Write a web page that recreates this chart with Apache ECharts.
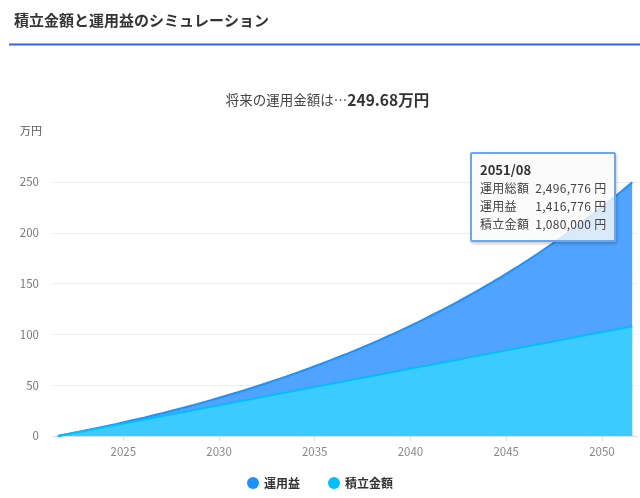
<!DOCTYPE html>
<html><head><meta charset="utf-8">
<script src="https://cdn.jsdelivr.net/npm/echarts@6/dist/echarts.min.js"></script>
<style>html,body{margin:0;padding:0;background:#fff;}#c{width:640px;height:498px;}</style>
</head><body><div id="c"></div>
<script>
var dates = ['2021-08','2022-08','2023-08','2024-08','2025-08','2026-08','2027-08','2028-08','2029-08','2030-08',
  '2031-08','2032-08','2033-08','2034-08','2035-08','2036-08','2037-08','2038-08','2039-08','2040-08',
  '2041-08','2042-08','2043-08','2044-08','2045-08','2046-08','2047-08','2048-08','2049-08','2050-08','2051-08'];
// 万円
var principal = [0,3.6,7.2,10.8,14.4,18,21.6,25.2,28.8,32.4,36,39.6,43.2,46.8,50.4,54,57.6,61.2,64.8,68.4,72,75.6,79.2,82.8,86.4,90,93.6,97.2,100.8,104.4,108];
var profit = [0,0.08,0.36,0.83,1.50,2.40,3.53,4.90,6.52,8.41,10.58,13.05,15.83,18.93,22.38,26.19,30.37,34.96,39.96,45.40,51.31,57.70,64.60,72.05,80.05,88.65,97.87,107.75,118.32,129.62,141.68];
var xTickYears = [2025,2030,2035,2040,2045,2050];
var yTicks = [0,50,100,150,200,250];
var seriesNames = ['運用益','積立金額'];
var titleText = '積立金額と運用益のシミュレーション';
var finalLabel = '将来の運用金額は…';
var finalValue = '249.68万円';
var tipDate = '2051/08';
var tipRows = [['運用総額','2,496,776 円'],['運用益','1,416,776 円'],['積立金額','1,080,000 円']];

var FONT = '"Noto Sans CJK JP","Noto Sans",sans-serif';
var chart = echarts.init(document.getElementById('c'));
function ts(s){ var p = s.split('-'); return new Date(+p[0], +p[1]-1, 1).getTime(); }
// stacked: the profit band sits on top of the principal band
var pData = dates.map(function(d,i){return [ts(d), principal[i]];});
var tData = dates.map(function(d,i){return [ts(d), principal[i] + profit[i]];});
var xTickVals = xTickYears.map(function(y){return new Date(y,0,1).getTime();});

chart.setOption({
  animation: false,
  textStyle: {fontFamily: FONT},
  title: [
    {text: titleText, left: 9, top: 8, textStyle: {fontSize: 15, fontWeight: 'bold', color: '#333', fontFamily: FONT}}
  ],
  graphic: [
    {type: 'line', shape: {x1: 9, y1: 44.5, x2: 640, y2: 44.5}, style: {stroke: '#3d63d8', lineWidth: 2}},
    {type: 'text', x: 327.5, y: 100, style: {text: '{a|' + finalLabel + '}{b|' + finalValue + '}', align: 'center', verticalAlign: 'middle',
      rich: {a: {fontSize: 13.5, fontWeight: 'normal', fill: '#444', fontFamily: FONT}, b: {fontSize: 15.5, fontWeight: 'bold', fill: '#333', fontFamily: FONT}}}}
  ],
  grid: {left: 53, right: 3, top: 182, bottom: 62},
  legend: {bottom: 4, left: 'center', data: seriesNames, icon: 'circle', itemWidth: 12, itemHeight: 12, itemGap: 28,
    textStyle: {fontSize: 12, fontWeight: 'bold', color: '#333', fontFamily: FONT}},
  tooltip: {
    trigger: 'axis', triggerOn: 'none', alwaysShowContent: true, axisPointer: {type: 'none'},
    position: [470, 152],
    backgroundColor: 'rgba(250,250,250,0.82)', borderColor: '#6aa8f2', borderWidth: 2, padding: [7, 8],
    extraCssText: 'box-shadow:1px 2px 3px rgba(0,0,0,0.2);border-radius:2px;',
    formatter: function(){
      var h = '<div style="font-family:' + FONT.replace(/"/g,"'") + ';font-size:12px;color:#444;line-height:18px">';
      h += '<div style="font-weight:bold;font-size:13px;color:#333">' + tipDate + '</div><table style="border-collapse:collapse;font-size:12px;color:#444;letter-spacing:0.3px">';
      tipRows.forEach(function(r){ h += '<tr><td style="padding:0 6px 0 0">' + r[0] + '</td><td style="padding:0;text-align:right">' + r[1] + '</td></tr>'; });
      return h + '</table></div>';
    }
  },
  xAxis: {
    type: 'value', min: new Date(2021,4,1).getTime(), max: new Date(2051,10,1).getTime(),
    axisLine: {show: true, lineStyle: {color: '#d6deef'}},
    axisTick: {show: true, customValues: xTickVals, lineStyle: {color: '#d6deef'}},
    splitLine: {show: false},
    axisLabel: {color: '#888', fontSize: 11.5, margin: 10, customValues: xTickVals,
      formatter: function(v){ return String(new Date(v).getFullYear()); }}
  },
  yAxis: {
    type: 'value', min: yTicks[0], max: yTicks[yTicks.length-1], interval: 50,
    name: '万円', nameGap: 46, nameTextStyle: {color: '#555', fontSize: 11, align: 'right', padding: [0, 11, 0, 0]},
    axisLine: {show: false}, axisTick: {show: false},
    axisLabel: {color: '#777', fontSize: 11.5, margin: 14},
    splitLine: {lineStyle: {color: '#ececec'}}
  },
  series: [
    {name: '運用益', type: 'line', data: tData, smooth: true, symbol: 'none',
     color: '#1e90ff', lineStyle: {width: 2, color: '#1e90ff'}, areaStyle: {color: '#50a3ff', opacity: 1}, emphasis: {disabled: true}, z: 2},
    {name: '積立金額', type: 'line', data: pData, smooth: true, symbol: 'none',
     color: '#00bfff', lineStyle: {width: 2, color: '#00bfff'}, areaStyle: {color: '#3ccbff', opacity: 1}, emphasis: {disabled: true}, z: 3}
  ]
});
chart.dispatchAction({type: 'showTip', seriesIndex: 0, dataIndex: dates.length - 1});
</script></body></html>
